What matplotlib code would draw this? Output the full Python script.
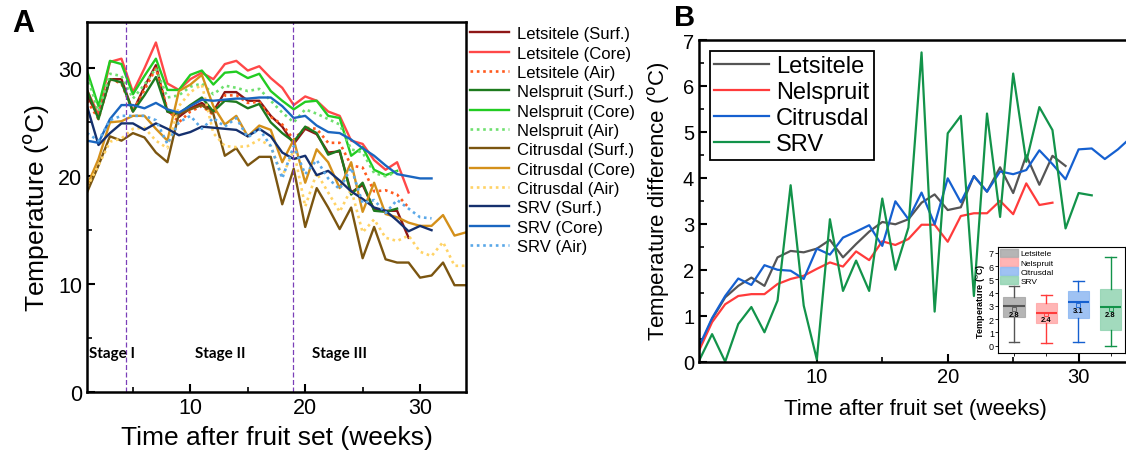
import matplotlib
matplotlib.use('Agg')
import matplotlib.pyplot as plt
import numpy as np
from matplotlib.patches import Patch

plt.rcParams['font.family'] = ['Liberation Sans', 'DejaVu Sans']

# ---------------- Panel A data (temperature, weeks after fruit set) ----------------
let_surf = [27.5, 25.5, 29.0, 29.0, 26.0, 28.3, 30.3, 26.0, 25.5, 26.3, 26.8, 26.0, 27.8, 27.8, 27.0,
            27.0, 25.6, 24.6, 23.0, 24.4, 23.9, 22.2, 22.3, 18.5, 19.2, 16.9, 16.8, 16.8, 14.3]
let_core = [28.0, 25.7, 30.6, 30.9, 27.8, 30.0, 32.4, 28.6, 28.0, 29.0, 29.6, 29.0, 30.4, 30.7, 29.8,
            30.2, 29.1, 28.2, 26.6, 27.4, 27.0, 26.0, 25.6, 23.3, 23.0, 21.5, 20.6, 21.3, 18.5]
let_air = [27.0, 25.3, 29.0, 28.6, 26.0, 28.0, 30.0, 26.2, 25.0, 26.0, 26.5, 25.7, 27.5, 27.5, 26.8,
           26.9, 25.5, 24.8, 23.4, 24.5, 24.4, 23.1, 23.1, 21.0, 20.8, 18.6, 18.7, 18.3, 17.1]
nel_surf = [28.0, 25.3, 29.0, 28.7, 26.0, 27.5, 29.2, 26.0, 25.8, 26.6, 27.3, 26.0, 27.0, 26.9, 26.3,
            26.7, 25.0, 24.0, 23.2, 24.6, 24.0, 22.0, 22.4, 18.3, 19.4, 16.8, 16.7, 17.0]
nel_core = [29.8, 26.5, 30.7, 30.4, 27.6, 29.3, 30.9, 28.0, 28.0, 29.4, 29.8, 28.5, 29.6, 29.7, 29.1,
            29.5, 27.9, 27.0, 26.2, 26.9, 27.0, 25.6, 25.4, 21.9, 22.7, 20.6, 20.1, 20.5]
nel_air = [29.3, 26.0, 29.5, 29.3, 27.2, 28.5, 30.0, 27.3, 27.5, 28.3, 28.6, 27.6, 28.4, 28.2, 27.9,
           28.1, 27.0, 25.9, 25.0, 26.2, 25.8, 25.3, 24.8, 22.5, 22.2, 20.3, 20.0, 20.4]
cit_surf = [18.5, 21.0, 23.7, 23.3, 24.0, 23.6, 22.2, 21.3, 25.8, 26.2, 26.6, 25.8, 21.9, 22.6, 21.0,
            21.8, 21.8, 17.4, 20.7, 15.3, 18.9, 17.1, 15.1, 17.1, 12.4, 15.3, 12.3, 12.0, 12.0, 10.6,
            10.8, 12.0, 9.9, 9.9]
cit_core = [19.1, 21.6, 25.0, 25.1, 25.6, 25.6, 24.4, 23.3, 27.9, 28.5, 29.4, 26.5, 24.8, 25.6, 23.7,
            24.7, 24.3, 21.3, 23.4, 19.4, 22.5, 21.3, 18.9, 21.3, 16.7, 19.4, 16.5, 16.2, 15.7, 15.4,
            15.4, 16.4, 14.5, 14.8]
cit_air = [19.0, 21.0, 23.2, 23.5, 24.4, 24.5, 23.3, 22.6, 26.5, 27.8, 28.5, 24.0, 22.8, 22.7, 22.8,
           23.4, 22.8, 20.0, 22.4, 17.2, 20.3, 18.5, 16.7, 18.8, 14.8, 16.0, 14.3, 14.0, 14.5, 13.0,
           12.6, 13.9, 11.7, 11.7]
srv_surf = [26.5, 22.9, 24.0, 24.9, 24.9, 24.3, 24.9, 24.4, 23.8, 24.1, 24.6, 24.5, 24.4, 24.3, 23.7,
            24.4, 23.7, 22.2, 21.6, 21.9, 20.1, 20.5, 19.6, 18.6, 17.9, 17.1, 16.8, 15.9, 14.9, 15.4, 15.0]
srv_core = [23.3, 23.1, 25.3, 26.6, 26.6, 26.3, 26.8, 26.2, 25.9, 26.5, 27.1, 27.0, 27.1, 27.2, 27.2,
            27.3, 27.3, 26.5, 25.4, 25.6, 24.7, 24.1, 24.0, 23.4, 22.6, 21.9, 21.0, 20.2, 20.0, 19.8, 19.8]
srv_air = [24.0, 23.3, 25.2, 25.6, 25.6, 25.6, 25.2, 23.0, 25.0, 25.6, 24.4, 25.4, 24.6, 25.4, 23.6,
           24.4, 22.8, 19.8, 22.8, 20.2, 21.5, 19.8, 18.8, 20.8, 17.5, 17.8, 16.6, 17.8, 17.0, 16.2, 16.1]

labels_A = ['Letsitele (Surf.)', 'Letsitele (Core)', 'Letsitele (Air)',
            'Nelspruit (Surf.)', 'Nelspruit (Core)', 'Nelspruit (Air)',
            'Citrusdal (Surf.)', 'Citrusdal (Core)', 'Citrusdal (Air)',
            'SRV (Surf.)', 'SRV (Core)', 'SRV (Air)']
series_A = [let_surf, let_core, let_air, nel_surf, nel_core, nel_air,
            cit_surf, cit_core, cit_air, srv_surf, srv_core, srv_air]
stage_lines = [4.4, 18.9]
stage_names = ['Stage I', 'Stage II', 'Stage III']

# ---------------- Panel B data (temperature difference) ----------------
diff_let = [0.28, 0.93, 1.40, 1.65, 1.83, 1.65, 2.27, 2.41, 2.38, 2.46, 2.65, 2.27, 2.56, 2.83, 3.04,
            2.99, 3.10, 3.46, 3.64, 3.30, 3.36, 4.04, 3.70, 4.23, 3.67, 4.49, 3.85, 4.48, 4.26]
diff_nel = [0.24, 0.86, 1.25, 1.43, 1.47, 1.47, 1.69, 1.80, 1.87, 2.02, 2.16, 2.07, 2.40, 2.21, 2.62,
            2.54, 2.67, 2.98, 2.98, 2.61, 3.17, 3.23, 3.23, 3.50, 3.21, 3.88, 3.41, 3.46]
diff_cit = [0.33, 0.95, 1.43, 1.81, 1.67, 2.10, 2.00, 1.98, 1.80, 2.46, 2.33, 2.70, 2.83, 2.97, 2.52,
            3.49, 3.10, 3.68, 2.99, 3.99, 3.47, 4.04, 3.70, 4.14, 4.08, 4.17, 4.60, 4.30, 3.97, 4.62,
            4.64, 4.41, 4.62, 4.88]
diff_srv = [0.02, 0.60, 0.00, 0.82, 1.19, 0.64, 1.33, 3.84, 1.22, 0.05, 3.10, 1.54, 2.20, 1.54, 3.55,
            2.00, 2.92, 6.73, 1.09, 4.97, 5.35, 1.43, 5.40, 3.15, 6.27, 4.35, 5.54, 5.04, 2.90, 3.67, 3.62]
labels_B = ['Letsitele', 'Nelspruit', 'Citrusdal', 'SRV']

# inset box statistics
box_q1 = [2.15, 1.70, 2.10, 1.15]
box_med = [3.00, 2.45, 3.30, 2.90]
box_q3 = [3.65, 3.20, 4.10, 4.25]
box_lo = [0.25, 0.20, 0.30, 0.00]
box_hi = [4.50, 3.85, 4.85, 6.70]
box_mean = [2.8, 2.4, 3.1, 2.8]

# ---------------- styles ----------------
colors_A = ['#8E1616', '#FF4848', '#FF5A1E',
            '#1E7A1E', '#22CC22', '#6FE06F',
            '#7B5510', '#D4901A', '#FFD366',
            '#15306E', '#1A66C0', '#5AA8E8']
styles_A = ['-', '-', (0, (1, 1.4)),
            '-', '-', (0, (1, 1.4)),
            '-', '-', (0, (1, 1.4)),
            '-', '-', (0, (1, 1.4))]
colors_B = ['#555555', '#FF3B3B', '#1560D0', '#12934A']
box_face = ['#A8A8A8', '#FFA8A8', '#8EB8F2', '#92D4B2']

W, H = 1126, 460
fig = plt.figure(figsize=(W / 100, H / 100), dpi=100)

# ======== Panel A ========
axA = fig.add_axes([87 / W, (H - 393) / H, 379 / W, 370 / H])
for data, lab, c, ls in zip(series_A, labels_A, colors_A, styles_A):
    wk = np.arange(1, len(data) + 1)
    axA.plot(wk, data, color=c, ls=ls, lw=1.7 if ls == '-' else 1.9, label=lab)
for xv in stage_lines:
    axA.axvline(xv, color='#7A3FB8', ls=(0, (4, 2)), lw=0.9)
for xs, name in zip([1.2, 10.4, 20.6], stage_names):
    axA.text(xs, 3.6, name, fontsize=11, fontweight='bold', family='Lato', va='center')
axA.set_xlim(1, 34)
axA.set_ylim(0, 34.3)
axA.set_xticks([10, 20, 30])
axA.set_xticks([5, 15, 25], minor=True)
axA.set_yticks([0, 10, 20, 30])
axA.set_yticks([5, 15, 25], minor=True)
axA.tick_params(which='major', direction='in', length=6, width=1.5, labelsize=15.5)
axA.tick_params(which='minor', direction='in', length=3.5, width=1.2)
for s in axA.spines.values():
    s.set_linewidth(1.8)
axA.set_xlabel('Time after fruit set (weeks)', fontsize=19, labelpad=5)
axA.set_ylabel(r'Temperature ($^{\mathrm{o}}$C)', fontsize=19, labelpad=5)
axA.legend(loc='upper left', bbox_to_anchor=(1.0, 1.0), frameon=False, fontsize=12,
           handlelength=2.3, handletextpad=0.5, labelspacing=0.26, borderaxespad=0.1,
           borderpad=0.15)
fig.text(12 / W, 1 - 24 / H, 'A', fontsize=22, fontweight='bold', va='center')

# ======== Panel B ========
axB = fig.add_axes([699 / W, (H - 362.7) / H, 432 / W, 321.7 / H])
for data, lab, c in zip([diff_let, diff_nel, diff_cit, diff_srv], labels_B, colors_B):
    wk = np.arange(1, len(data) + 1)
    axB.plot(wk, data, color=c, lw=1.6, label=lab)
axB.set_xlim(1, 34)
axB.set_ylim(0, 7)
axB.set_xticks([10, 20, 30])
axB.set_xticks([15, 25], minor=True)
axB.set_yticks(range(0, 8))
axB.set_yticks(np.arange(0.5, 7, 1), minor=True)
axB.tick_params(which='major', direction='in', length=6, width=1.5, labelsize=14.5)
axB.tick_params(which='minor', direction='in', length=3.5, width=1.2)
for s in axB.spines.values():
    s.set_linewidth(1.8)
axB.set_xlabel('Time after fruit set (weeks)', fontsize=16, labelpad=9)
axB.set_ylabel(r'Temperature difference ($^{\mathrm{o}}$C)', fontsize=16, labelpad=8)
legB = axB.legend(loc='upper left', fontsize=17, handlelength=2.3, handletextpad=0.3,
                  labelspacing=0.17, borderpad=0.2, borderaxespad=0.45, fancybox=False,
                  edgecolor='black', framealpha=1)
legB.get_frame().set_linewidth(1.3)
fig.text(674 / W, 1 - 18 / H, 'B', fontsize=21, fontweight='bold', va='center')

# ======== Inset ========
axI = fig.add_axes([998 / W, (H - 354) / H, 127 / W, 106 / H])
stats = []
for i in range(4):
    stats.append(dict(q1=box_q1[i], med=box_med[i], q3=box_q3[i], whislo=box_lo[i],
                      whishi=box_hi[i], mean=box_mean[i], label=labels_B[i]))
bp = axI.bxp(stats, positions=[1, 2, 3, 4], widths=0.66, patch_artist=True, showmeans=True,
             showfliers=False)
for i in range(4):
    bp['boxes'][i].set(facecolor=box_face[i], edgecolor=box_face[i], alpha=0.85, lw=0.8)
    bp['medians'][i].set(color=colors_B[i], lw=1.5)
    for w in bp['whiskers'][2 * i:2 * i + 2]:
        w.set(color=colors_B[i], lw=1.0)
    for cp in bp['caps'][2 * i:2 * i + 2]:
        cp.set(color=colors_B[i], lw=1.0)
    bp['means'][i].set(marker='s', markersize=3, markerfacecolor='none',
                       markeredgecolor=colors_B[i], markeredgewidth=0.6)
    axI.text(i + 1, box_mean[i] - 0.45, f'{box_mean[i]:.1f}', fontsize=5.5, ha='center',
             va='center', fontweight='bold')
axI.set_xlim(0.5, 4.45)
axI.set_ylim(-0.55, 7.45)
axI.set_xticks([1, 3])
axI.set_xticks([2, 4], minor=True)
axI.set_xticklabels([])
axI.set_yticks(range(0, 8))
axI.tick_params(axis='y', labelsize=6.5, direction='out', length=2, width=0.6, pad=1)
axI.tick_params(axis='x', which='both', direction='out', length=2, width=0.6)
for s in axI.spines.values():
    s.set_linewidth(0.8)
axI.set_ylabel(r'Temperature ($^{\mathrm{o}}$C)', fontsize=6.5, fontweight='bold', labelpad=1)
handles = [Patch(facecolor=box_face[i], edgecolor=box_face[i], alpha=0.85) for i in range(4)]
axI.legend(handles, labels_B, loc='upper left', fontsize=6, frameon=False, handlelength=2.2,
           handleheight=1.1, labelspacing=0.05, borderaxespad=0.1, borderpad=0.1,
           handletextpad=0.3)

fig.savefig('out.png', dpi=100)
